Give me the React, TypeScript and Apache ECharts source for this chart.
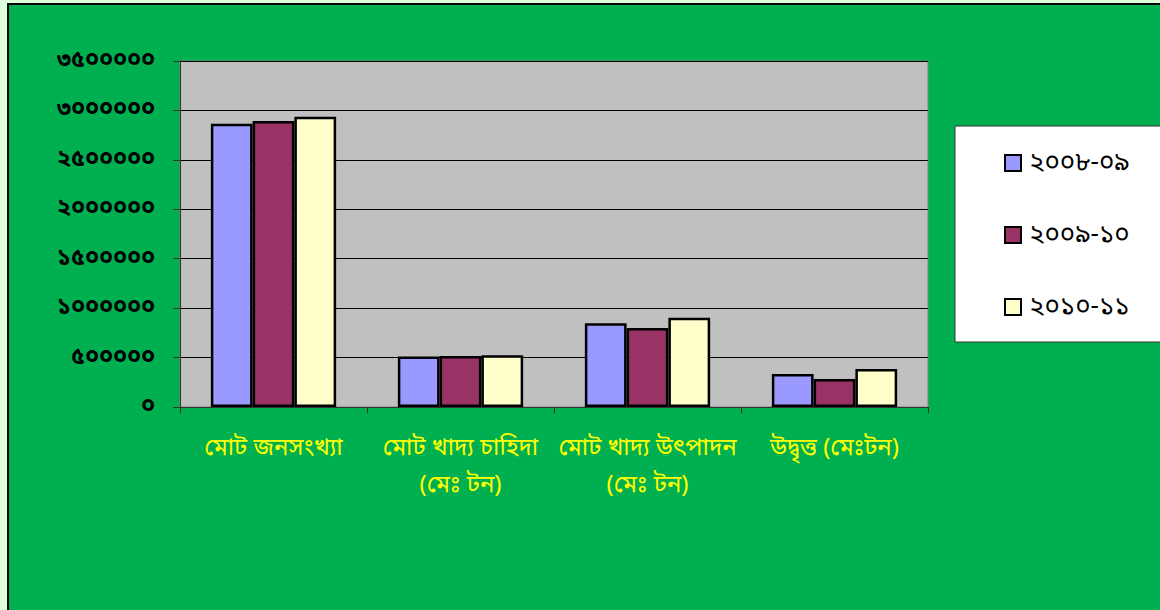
import React, { useEffect, useRef } from "react";
import * as echarts from "echarts";

const categories = [
  "মোট জনসংখ্যা",
  "মোট খাদ্য চাহিদা\n(মেঃ টন)",
  "মোট খাদ্য উৎপাদন\n(মেঃ টন)",
  "উদ্বৃত্ত (মেঃটন)",
];
const seriesNames = ["২০০৮-০৯", "২০০৯-১০", "২০১০-১১"];
const values2008 = [2865000, 510000, 847000, 334000];
const values2009 = [2893000, 516000, 799000, 283000];
const values2010 = [2937000, 523000, 903000, 384000];
const seriesColors = ["#9999FF", "#993366", "#FFFFCC"];

const bnDigits = ["০", "১", "২", "৩", "৪", "৫", "৬", "৭", "৮", "৯"];
const toBn = (v: number | string) => String(v).replace(/[0-9]/g, (d) => bnDigits[+d]);

const FONT = "'Noto Sans Bengali', 'Noto Sans', 'DejaVu Sans', sans-serif";

export default function App() {
  const ref = useRef<HTMLDivElement>(null);
  useEffect(() => {
    if (!ref.current) return;
    const chart = echarts.init(ref.current, null, { renderer: "svg" });
    const data = [values2008, values2009, values2010];
    chart.setOption({
      animation: false,
      backgroundColor: "#DEFEDE",
      graphic: [
        {
          type: "rect",
          shape: { x: 8, y: 4, width: 1170, height: 620 },
          style: { fill: "#00B050", stroke: "#000", lineWidth: 2 },
          z: -10,
        },
        {
          type: "rect",
          shape: { x: 955, y: 126, width: 220, height: 216 },
          style: { fill: "#FFFFFF", stroke: "#333", lineWidth: 1 },
          z: 1,
        },
      ],
      grid: {
        left: 180,
        top: 61,
        right: 232,
        bottom: 203,
        show: true,
        backgroundColor: "#C0C0C0",
        borderColor: "#808080",
        borderWidth: 1,
      },
      legend: {
        orient: "vertical",
        left: 999,
        top: 145,
        itemWidth: 16,
        itemHeight: 16,
        itemGap: 46,
        icon: "rect",
        z: 5,
        textStyle: {
          fontFamily: FONT,
          fontSize: 26,
          color: "#000",
          lineHeight: 22,
          padding: [0, 0, 0, 3],
        },
        data: seriesNames,
      },
      xAxis: {
        type: "category",
        data: categories,
        axisLine: { lineStyle: { color: "#333", width: 1 } },
        axisTick: { show: true, length: 6, lineStyle: { color: "#333" } },
        axisLabel: {
          color: "#FFFF00",
          fontFamily: FONT,
          fontSize: 24,
          lineHeight: 37,
          margin: 23,
          interval: 0,
        },
      },
      yAxis: {
        type: "value",
        min: 0,
        max: 3500000,
        interval: 500000,
        axisLine: { show: true, lineStyle: { color: "#333" } },
        axisTick: { show: true, length: 7, lineStyle: { color: "#333" } },
        splitLine: { lineStyle: { color: "#000", width: 1 } },
        axisLabel: {
          color: "#000",
          fontFamily: FONT,
          fontSize: 23,
          fontWeight: "bold",
          margin: 25,
          formatter: (v: number) => toBn(v),
        },
      },
      series: seriesNames.map((name, i) => ({
        name,
        type: "bar",
        data: data[i],
        barGap: "0%",
        barCategoryGap: "33%",
        itemStyle: {
          color: seriesColors[i],
          borderColor: "#000",
          borderWidth: 2.5,
        },
      })),
    });
    return () => chart.dispose();
  }, []);
  return (
    <div
      ref={ref}
      style={{ position: "fixed", left: 0, top: 0, width: 1160, height: 610 }}
    />
  );
}
